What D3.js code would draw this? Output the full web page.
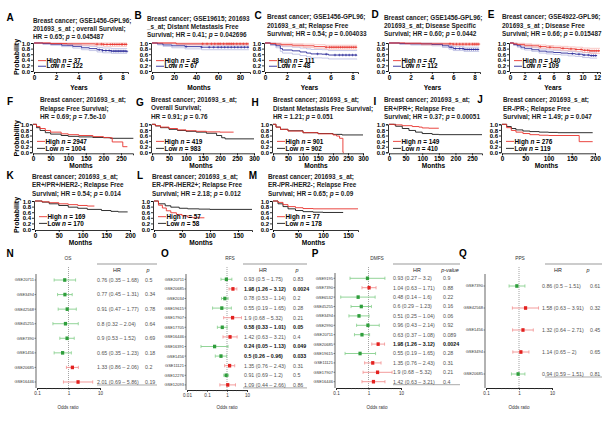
<!DOCTYPE html>
<html><head><meta charset="utf-8">
<script src="https://cdn.jsdelivr.net/npm/d3@7"></script>
<style>body{margin:0;background:#fff}svg{display:block}text{font-family:"Liberation Sans",Arial,sans-serif}</style>
</head><body><svg id="c" width="605" height="421"></svg>
<script>
// ---------------- DATA ----------------
const PROB_TICKS = [0, 0.2, 0.4, 0.6, 0.8, 1.0];
const YEAR_TICKS_8 = [0, 2, 4, 6, 8];
const YEAR_TICKS_12 = [0, 2, 4, 6, 8, 10, 12];
const MONTH_TICKS_B = [0, 20, 40, 60, 80];
const MONTH_TICKS_250 = [0, 50, 100, 150, 200, 250];
const MONTH_TICKS_300 = [0, 50, 100, 150, 200, 250, 300];
const MONTH_TICKS_200 = [0, 50, 100, 150, 200];
const MONTH_TICKS_150 = [0, 50, 100, 150];

// KM curves: [time, survival]
const A_high = [[0,1],[1.5,0.98],[3,0.97],[5.5,0.96],[6.3,0.95],[8.4,0.95]];
const A_low = [[0,1],[0.8,0.98],[1.5,0.96],[2.5,0.92],[3.5,0.88],[4.3,0.83],[5,0.8],[5.7,0.76],[6.2,0.73],[7,0.71],[8.4,0.7]];
const A_high_ci = [[0,1,1],[1.5,0.95,1],[3,0.92,1],[5.5,0.9,1],[6.3,0.88,1],[8.4,0.88,1]];
const A_low_ci = [[0,1,1],[0.8,0.95,1],[1.5,0.92,0.99],[2.5,0.87,0.97],[3.5,0.82,0.94],[4.3,0.76,0.9],[5,0.73,0.88],[5.7,0.68,0.84],[6.2,0.65,0.82],[7,0.63,0.8],[8.4,0.62,0.79]];
const A_high_cens = [5.7,6.1,6.3,6.6,6.9,7.1,7.3,7.5,7.7,7.9,8.0,8.2,8.35];
const A_low_cens = [5.9,6.2,6.5,6.8,7.0,7.2,7.35,7.5,7.65,7.8,7.95,8.1,8.25,8.4];

const B_high = [[0,1],[22,0.97],[88,0.97]];
const B_low = [[0,1],[5,0.97],[10,0.93],[18,0.9],[30,0.87],[45,0.85],[88,0.85]];
const B_high_ci = [[0,1,1],[22,0.93,1],[88,0.92,1]];
const B_low_ci = [[0,1,1],[5,0.93,1],[10,0.88,0.98],[18,0.83,0.96],[30,0.79,0.94],[45,0.76,0.93],[88,0.76,0.93]];
const B_high_cens = [46,50,54,57,60,62,65,68,70,72,74,77,80,83,86];
const B_low_cens = [31,45,52,56,60,63,66,69,72,75,78,81,84,87];

const C_high = [[0,1],[0.5,0.98],[1,0.96],[1.5,0.94],[2.5,0.92],[3.5,0.9],[4.5,0.87],[5.5,0.85],[8.4,0.84]];
const C_low = [[0,1],[0.5,0.96],[1,0.9],[1.4,0.8],[1.6,0.75],[2.5,0.72],[3.2,0.68],[3.8,0.64],[4.2,0.61],[5.2,0.6],[5.8,0.57],[8.4,0.56]];
const C_high_ci = [[0,1,1],[0.5,0.95,1],[1,0.92,1],[1.5,0.9,0.99],[2.5,0.87,0.97],[3.5,0.84,0.96],[4.5,0.81,0.94],[5.5,0.78,0.92],[8.4,0.77,0.91]];
const C_low_ci = [[0,1,1],[0.5,0.91,1],[1,0.83,0.98],[1.4,0.7,0.9],[1.6,0.64,0.87],[2.5,0.6,0.85],[3.2,0.55,0.82],[3.8,0.51,0.79],[4.2,0.47,0.77],[5.2,0.46,0.76],[5.8,0.43,0.73],[8.4,0.42,0.72]];
const C_high_cens = [5.6,5.9,6.1,6.3,6.5,6.7,6.9,7.1,7.3,7.5,7.7,7.9,8.1,8.3];
const C_low_cens = [4.8,5.6,6.4,6.8,7.1,7.4,7.7,8.0,8.3];

const D_high = [[0,1],[1.5,0.99],[3,0.97],[6,0.96],[8.4,0.96]];
const D_low = [[0,1],[1,0.98],[2,0.97],[4,0.95],[5,0.9],[5.6,0.85],[6,0.8],[7,0.77],[8.4,0.76]];
const D_high_ci = [[0,1,1],[1.5,0.96,1],[3,0.93,1],[6,0.91,1],[8.4,0.91,1]];
const D_low_ci = [[0,1,1],[1,0.95,1],[2,0.93,1],[4,0.9,0.99],[5,0.84,0.95],[5.6,0.78,0.91],[6,0.73,0.87],[7,0.7,0.85],[8.4,0.69,0.84]];
const D_high_cens = [5.7,6.0,6.3,6.6,6.9,7.2,7.5,7.8,8.0,8.2,8.4];
const D_low_cens = [5.8,6.2,6.6,6.9,7.1,7.3,7.5,7.7,7.9,8.1,8.3];

const E_high = [[0,1],[0.5,0.97],[1,0.95],[2,0.92],[3,0.9],[4,0.87],[5,0.85],[6,0.83],[7,0.81],[8,0.79],[9,0.77],[10,0.74],[11,0.72],[12.4,0.72]];
const E_low = [[0,1],[0.5,0.95],[1,0.9],[1.5,0.85],[2,0.81],[3,0.76],[4,0.71],[5,0.68],[6,0.66],[7,0.64],[8,0.62],[9,0.6],[10,0.57],[11,0.55],[12,0.55]];
const E_high_ci = [[0,1,1],[0.5,0.94,1],[1,0.91,0.99],[2,0.87,0.97],[3,0.85,0.95],[4,0.81,0.93],[5,0.79,0.91],[6,0.76,0.89],[7,0.74,0.88],[8,0.72,0.86],[9,0.7,0.85],[10,0.66,0.82],[11,0.63,0.81],[12.4,0.63,0.81]];
const E_low_ci = [[0,1,1],[0.5,0.91,0.99],[1,0.85,0.95],[1.5,0.79,0.91],[2,0.75,0.88],[3,0.7,0.83],[4,0.64,0.78],[5,0.61,0.75],[6,0.59,0.74],[7,0.57,0.72],[8,0.54,0.7],[9,0.52,0.68],[10,0.48,0.66],[11,0.46,0.64],[12,0.46,0.64]];
const E_high_cens = [4.2,5.5,7.3,8.4,9.1,9.8,10.3,10.7,11.0,11.3,11.6,11.9,12.2];
const E_low_cens = [8.6,9.5,10.2,10.8,11.2,11.5,11.8];

const F_high = [[0,1],[10,0.92],[20,0.85],[35,0.78],[50,0.72],[80,0.66],[100,0.63],[130,0.6],[170,0.56],[200,0.53],[215,0.52],[225,0.37],[255,0.2],[268,0.2]];
const F_low = [[0,1],[10,0.88],[20,0.78],[35,0.7],[50,0.65],[80,0.6],[100,0.57],[130,0.55],[170,0.53],[200,0.52],[220,0.5],[285,0.5]];
const G_high = [[0,1],[10,0.95],[25,0.9],[50,0.85],[75,0.8],[100,0.77],[130,0.75],[160,0.73],[200,0.72],[240,0.72]];
const G_low = [[0,1],[10,0.94],[25,0.88],[50,0.82],[75,0.78],[100,0.75],[130,0.72],[160,0.68],[190,0.6],[205,0.52],[215,0.48],[300,0.48]];
const H_high = [[0,1],[10,0.9],[25,0.82],[50,0.76],[100,0.7],[150,0.66],[200,0.62],[212,0.58],[222,0.5],[233,0.0],[236,0.0]];
const H_low = [[0,1],[10,0.9],[25,0.82],[50,0.77],[100,0.7],[150,0.67],[200,0.64],[230,0.62],[300,0.62]];
const I_high = [[0,1],[15,0.98],[40,0.95],[70,0.92],[90,0.9],[100,0.87],[120,0.86],[150,0.86]];
const I_low = [[0,1],[20,0.93],[40,0.85],[60,0.78],[80,0.72],[100,0.67],[130,0.64],[150,0.63],[280,0.63]];
const J_high = [[0,1],[10,0.88],[20,0.78],[30,0.72],[45,0.67],[60,0.63],[80,0.61],[100,0.6],[166,0.38],[195,0.38]];
const J_low = [[0,1],[10,0.92],[20,0.85],[30,0.8],[45,0.76],[60,0.74],[80,0.72],[100,0.71],[120,0.7],[195,0.7]];
const K_high = [[0,1],[15,0.97],[30,0.94],[50,0.9],[70,0.87],[90,0.84],[110,0.82],[125,0.82]];
const K_low = [[0,1],[15,0.96],[30,0.9],[50,0.84],[70,0.78],[90,0.74],[110,0.7],[140,0.66],[160,0.63],[175,0.61],[195,0.61]];
const L_high = [[0,1],[8,0.85],[15,0.75],[22,0.65],[30,0.58],[40,0.52],[50,0.47],[60,0.42],[70,0.4],[90,0.4]];
const L_low = [[0,1],[8,0.9],[20,0.83],[30,0.78],[45,0.74],[60,0.72],[80,0.71],[100,0.7],[175,0.7]];
const M_high = [[0,1],[10,0.95],[20,0.87],[30,0.8],[45,0.76],[60,0.73],[80,0.72],[170,0.72]];
const M_low = [[0,1],[10,0.9],[20,0.8],[30,0.72],[45,0.66],[60,0.62],[80,0.6],[100,0.59],[140,0.58]];

// Forest plot data
const N_labels = ["GSE20711","GSE3494","GSE42568","GSE45255","GSE7390","GSE1456","GSE20685","GSE16446"];
const N_hr = [0.76,0.77,0.91,0.8,0.9,0.65,1.33,2.01];
const N_lo = [0.35,0.45,0.47,0.32,0.53,0.35,0.86,0.69];
const N_hi = [1.68,1.31,1.77,2.04,1.52,1.23,2.06,5.86];
const N_p = ["0.5","0.34","0.78","0.64","0.69","0.18","0.2","0.19"];

const O_labels = ["GSE20711","GSE20685","GSE2034","GSE19615","GSE17907","GSE17705","GSE16446","GSE16391","GSE1456","GSE11121","GSE12276","GSE12093"];
const O_hr = [0.93,1.98,0.78,0.55,1.9,0.58,1.42,0.24,0.5,1.35,0.91,1.09];
const O_lo = [0.5,1.26,0.53,0.19,0.68,0.33,0.63,0.05,0.26,0.76,0.69,0.44];
const O_hi = [1.75,3.12,1.14,1.65,5.32,1.01,3.21,1.13,0.96,2.43,1.2,2.66];
const O_p = ["0.83","0.0024","0.2","0.28","0.21","0.05","0.4","0.049","0.033","0.31","0.5","0.86"];

const P_labels = ["GSE9195","GSE7390","GSE6532","GSE45255","GSE3494","GSE2990","GSE20711","GSE20685","GSE19615","GSE11121","GSE17907","GSE16446"];
const P_hr = [0.93,1.04,0.48,0.6,0.51,0.96,0.63,1.98,0.55,1.35,1.9,1.42];
const P_lo = [0.27,0.63,0.14,0.29,0.25,0.43,0.37,1.26,0.19,0.76,0.68,0.63];
const P_hi = [3.2,1.71,1.6,1.23,1.04,2.14,1.08,3.12,1.65,2.43,5.32,3.21];
const P_p = ["0.9","0.88","0.22","0.16","0.06","0.92","0.089","0.0024","0.28","0.31","0.21","0.4"];

const Q_labels = ["GSE7390","GSE42568","GSE1456","GSE3494","GSE20685"];
const Q_hr = [0.86,1.58,1.32,1.14,0.94];
const Q_lo = [0.5,0.63,0.64,0.65,0.59];
const Q_hi = [1.51,3.91,2.71,2,1.51];
const Q_p = ["0.61","0.32","0.45","0.65","0.81"];

// ---------------- DRAWING ----------------
const svg = d3.select("#c");
const RED = "#e8322c", BLUE = "#2b2b9a", RED_CI = "#f6b0ad", BLUE_CI = "#aeb0de", BLACK = "#1a1a1a";

function survAt(curve, t) {
  let v = curve[0][1];
  for (const [tt, s] of curve) { if (tt <= t) v = s; else break; }
  return v;
}

function styleAxis(a, fs) {
  a.attr("font-size", null).attr("font-family", null);
  a.selectAll("text").attr("font-size", fs).attr("font-weight", "bold").attr("fill", "#000");
  a.selectAll("path,line").attr("stroke", "#000").attr("stroke-width", 0.8);
}

function km(p) {
  const g = svg.append("g");
  const x = d3.scaleLinear().domain([0, p.xmax]).range([p.left, p.right]);
  const y = d3.scaleLinear().domain([0, 1]).range([p.bottom, p.top]);
  g.append("text").attr("x", p.lx).attr("y", p.ly).attr("font-size", 10).attr("font-weight", "bold")
    .attr("text-anchor", "middle").text(p.letter);
  p.title.forEach((t, i) => {
    const tx = g.append("text").attr("x", p.tx).attr("y", p.ty + i * 8.3).attr("font-size", 6.4).attr("font-weight", "bold").attr("fill", "#222");
    const parts = t.split(" p = ");
    if (parts.length > 1) {
      tx.append("tspan").text(parts[0] + " ");
      tx.append("tspan").attr("font-style", "italic").text("p");
      tx.append("tspan").text(" = " + parts[1]);
    } else tx.text(t);
  });
  const ya = g.append("g").attr("transform", `translate(${p.left - 1},0)`)
    .call(d3.axisLeft(y).tickValues(PROB_TICKS).tickFormat(d3.format(".1f")).tickSize(2).tickPadding(1));
  styleAxis(ya, 6.0);
  ya.selectAll("text").attr("dy", "0.36em");
  const xa = g.append("g").attr("transform", `translate(0,${p.bottom + 1})`)
    .call(d3.axisBottom(x).tickValues(p.ticks).tickSize(2).tickPadding(1.5));
  styleAxis(xa, 6.4);
  g.append("text").attr("x", (p.left + p.right) / 2 - 2).attr("y", p.xly).attr("text-anchor", "middle")
    .attr("font-size", 6.6).attr("font-weight", "bold").text(p.xlabel);
  if (p.ylab) {
    g.append("text").attr("transform", `translate(19,${(p.top + p.bottom) / 2}) rotate(-90)`)
      .attr("text-anchor", "middle").attr("font-size", 7).attr("font-weight", "bold").text("Probability");
  }
  const line = d3.line().x(d => x(d[0])).y(d => y(d[1])).curve(d3.curveStepAfter);
  const series = [
    { c: p.low, ci: p.lowCi, cens: p.lowCens, col: p.lowCol, ciCol: p.lowCiCol },
    { c: p.high, ci: p.highCi, cens: p.highCens, col: p.highCol, ciCol: p.highCiCol }
  ];
  series.forEach(s => {
    if (s.ci) {
      g.append("path").attr("d", line(s.ci.map(d => [d[0], d[1]]))).attr("fill", "none").attr("stroke", s.ciCol).attr("stroke-width", 0.7);
      g.append("path").attr("d", line(s.ci.map(d => [d[0], d[2]]))).attr("fill", "none").attr("stroke", s.ciCol).attr("stroke-width", 0.7);
    }
  });
  series.forEach(s => {
    g.append("path").attr("d", line(s.c)).attr("fill", "none").attr("stroke", s.col).attr("stroke-width", 0.9);
    if (s.cens) {
      g.append("path").attr("d", s.cens.map(t => {
        const cx = x(t), cy = y(survAt(s.c, t));
        return `M${cx - 1.3},${cy}h2.6M${cx},${cy - 1.3}v2.6`;
      }).join("")).attr("stroke", s.col).attr("stroke-width", 0.6).attr("fill", "none");
    }
  });
  const leg = [
    { lab: "High", n: p.nHigh, col: p.highCol, f: p.legF[0] },
    { lab: "Low", n: p.nLow, col: p.lowCol, f: p.legF[1] }
  ];
  leg.forEach(l => {
    const ly = y(l.f);
    g.append("line").attr("x1", p.left + 4).attr("x2", p.left + 12).attr("y1", ly).attr("y2", ly)
      .attr("stroke", l.col).attr("stroke-width", 0.9);
    const t = g.append("text").attr("x", p.left + 12.5).attr("y", ly + 2.2).attr("font-size", 6.4).attr("font-weight", "bold");
    t.append("tspan").text(l.lab + " ");
    t.append("tspan").attr("font-style", "italic").text("n");
    t.append("tspan").text(" = " + l.n);
  });
}

const ROW1 = { top: 43, bottom: 71, xly: 89.5, legF: [0.37, 0.17] };
const ROW2 = { top: 124.3, bottom: 152.3, xly: 168, legF: [0.39, 0.14] };
const ROW3 = { top: 201, bottom: 229, xly: 245, legF: [0.44, 0.2] };
const blueSet = { highCol: RED, lowCol: BLUE, highCiCol: RED_CI, lowCiCol: BLUE_CI };
const blackSet = { highCol: RED, lowCol: BLACK };

const panels = [
  Object.assign({ letter: "A", lx: 10, ly: 21, tx: 33, ty: 22.5, left: 34, right: 128, xmax: 8.5, ticks: YEAR_TICKS_8, xlabel: "Years", ylab: true,
    title: ["Breast cancer; GSE1456-GPL96;", "201693_s_at ; overall Survival;", "HR = 0.65; p = 0.045487"],
    high: A_high, low: A_low, highCi: A_high_ci, lowCi: A_low_ci, highCens: A_high_cens, lowCens: A_low_cens, nHigh: 37, nLow: 122 }, ROW1, blueSet),
  Object.assign({ letter: "B", lx: 138, ly: 19, tx: 147, ty: 20.5, left: 152, right: 250, xmax: 89, ticks: MONTH_TICKS_B, xlabel: "Months",
    title: ["Breast cancer; GSE19615; 201693", "_s_at; Distant Metastasis Free", "Survival; HR = 0.41; p = 0.042696"],
    high: B_high, low: B_low, highCi: B_high_ci, lowCi: B_low_ci, highCens: B_high_cens, lowCens: B_low_cens, nHigh: 48, nLow: 67 }, ROW1, blueSet),
  Object.assign({ letter: "C", lx: 258, ly: 18.5, tx: 267, ty: 19.2, left: 265, right: 358, xmax: 8.5, ticks: YEAR_TICKS_8, xlabel: "Years",
    title: ["Breast cancer; GSE1456-GPL96;", "201693_s_at; Relapse Free", "Survival; HR = 0.54; p = 0.004033"],
    high: C_high, low: C_low, highCi: C_high_ci, lowCi: C_low_ci, highCens: C_high_cens, lowCens: C_low_cens, nHigh: 111, nLow: 48 }, ROW1, blueSet),
  Object.assign({ letter: "D", lx: 375, ly: 18, tx: 384, ty: 19.8, left: 389, right: 480, xmax: 8.5, ticks: YEAR_TICKS_8, xlabel: "Years",
    title: ["Breast cancer; GSE1456-GPL96;", "201693_s_at; Disease Specific", "Survival; HR = 0.60; p = 0.0442"],
    high: D_high, low: D_low, highCi: D_high_ci, lowCi: D_low_ci, highCens: D_high_cens, lowCens: D_low_cens, nHigh: 47, nLow: 112 }, ROW1, blueSet),
  Object.assign({ letter: "E", lx: 491, ly: 18, tx: 502, ty: 19.2, left: 510, right: 600, xmax: 12.4, ticks: YEAR_TICKS_12, xlabel: "Years",
    title: ["Breast cancer; GSE4922-GPL96;", "201693_s_at ; Disease Free", "Survival; HR = 0.66; p = 0.015487"],
    high: E_high, low: E_low, highCi: E_high_ci, lowCi: E_low_ci, highCens: E_high_cens, lowCens: E_low_cens, nHigh: 140, nLow: 109 }, ROW1, blueSet),

  Object.assign({ letter: "F", lx: 10, ly: 105, tx: 40, ty: 102.3, left: 33, right: 133, xmax: 284, ticks: MONTH_TICKS_250, xlabel: "Months", ylab: true,
    title: ["Breast cancer; 201693_s_at;", "Relapse Free Survival;", "HR = 0.69; p = 7.5e-10"],
    high: F_high, low: F_low, nHigh: 2947, nLow: 1004 }, ROW2, blackSet),
  Object.assign({ letter: "G", lx: 140, ly: 106, tx: 151, ty: 102, left: 152, right: 254, xmax: 300, ticks: MONTH_TICKS_300, xlabel: "Months",
    title: ["Breast cancer; 201693_s_at;", "Overall Survival;", "HR = 0.91; p = 0.76"],
    high: G_high, low: G_low, nHigh: 419, nLow: 983 }, ROW2, blackSet),
  Object.assign({ letter: "H", lx: 255, ly: 106, tx: 273, ty: 102.3, left: 273, right: 363, xmax: 300, ticks: MONTH_TICKS_300, xlabel: "Months",
    title: ["Breast cancer; 201693_s_at;", "Distant Metastasis Free Survival;", "HR = 1.21; p = 0.051"],
    high: H_high, low: H_low, nHigh: 901, nLow: 902 }, ROW2, blackSet),
  Object.assign({ letter: "I", lx: 375, ly: 105, tx: 384, ty: 102.3, left: 389, right: 482, xmax: 280, ticks: MONTH_TICKS_250, xlabel: "Months",
    title: ["Breast cancer; 201693_s_at;", "ER+/PR+; Relapse Free", "Survival; HR = 0.37; p = 0.00051"],
    high: I_high, low: I_low, nHigh: 149, nLow: 410 }, ROW2, blackSet),
  Object.assign({ letter: "J", lx: 480, ly: 103, tx: 503, ty: 102.3, left: 502, right: 595, xmax: 200, ticks: MONTH_TICKS_200, xlabel: "Months",
    title: ["Breast cancer; 201693_s_at;", "ER-/PR-; Relapse Free", "Survival; HR = 1.49; p = 0.047"],
    high: J_high, low: J_low, nHigh: 276, nLow: 119 }, ROW2, blackSet),

  Object.assign({ letter: "K", lx: 10, ly: 179, tx: 32, ty: 179, left: 35, right: 130, xmax: 200, ticks: MONTH_TICKS_200, xlabel: "Months", ylab: true,
    title: ["Breast cancer; 201693_s_at;", "ER+/PR+/HER2-; Relapse Free", "Survival; HR = 0.54; p = 0.014"],
    high: K_high, low: K_low, nHigh: 169, nLow: 170 }, ROW3, blackSet),
  Object.assign({ letter: "L", lx: 140, ly: 179, tx: 152, ty: 179, left: 154, right: 252, xmax: 175, ticks: MONTH_TICKS_150, xlabel: "Months",
    title: ["Breast cancer; 201693_s_at;", "ER-/PR-/HER2+; Relapse Free", "Survival; HR = 2.18; p = 0.012"],
    high: L_high, low: L_low, nHigh: 57, nLow: 58 }, ROW3, blackSet),
  Object.assign({ letter: "M", lx: 253, ly: 179, tx: 268, ty: 179, left: 273, right: 358, xmax: 170, ticks: MONTH_TICKS_150, xlabel: "Months",
    title: ["Breast cancer; 201693_s_at;", "ER-/PR-/HER2-; Relapse Free", "Survival; HR = 0.65; p = 0.09"],
    high: M_high, low: M_low, nHigh: 77, nLow: 178 }, ROW3, blackSet)
];
panels.forEach(km);

// ---------- Forest plots ----------
const G_MARK = "#2f9e3c", G_BAR = "#86cf8c", R_MARK = "#e3211f", R_BAR = "#f29090";
function forest(f) {
  const g = svg.append("g");
  const x = d3.scaleLog().domain(f.domain).range([f.left, f.right]);
  const yRow = i => f.rowTop + i * f.rowStep;
  const n = f.labels.length;
  g.append("text").attr("x", f.lx).attr("y", 257).attr("font-size", 10).attr("font-weight", "bold").attr("text-anchor", "middle").text(f.letter);
  g.append("text").attr("x", f.titleX).attr("y", 260).attr("font-size", 4.8).attr("text-anchor", "middle").attr("fill", "#333").text(f.title);
  g.append("line").attr("x1", x(1)).attr("x2", x(1)).attr("y1", 267).attr("y2", f.axisY)
    .attr("stroke", "#666").attr("stroke-width", 0.6).attr("stroke-dasharray", "1,1");
  g.append("line").attr("x1", f.left - 1).attr("x2", f.left - 1).attr("y1", f.axisTop).attr("y2", f.axisY)
    .attr("stroke", "#222").attr("stroke-width", 0.7);
  f.labels.forEach((lab, i) => {
    g.append("line").attr("x1", f.left - 2.5).attr("x2", f.left - 1).attr("y1", yRow(i)).attr("y2", yRow(i)).attr("stroke", "#222").attr("stroke-width", 0.5);
    g.append("text").attr("x", f.left - 3).attr("y", yRow(i) + 1.4).attr("text-anchor", "end").attr("font-size", 4).attr("fill", "#333").text(lab);
  });
  const xa = g.append("g").attr("transform", `translate(0,${f.axisY})`)
    .call(d3.axisBottom(x).tickValues(f.major).tickFormat(d3.format("~g")).tickSize(2).tickPadding(2));
  xa.attr("font-size", null).attr("font-family", null);
  xa.selectAll("text").attr("font-size", 4.6).attr("fill", "#333");
  xa.selectAll("path,line").attr("stroke", "#222").attr("stroke-width", 0.7);
  xa.select(".domain").attr("stroke-width", 1);
  g.selectAll(".minor").data(x.ticks().filter(t => !f.major.includes(t))).join("line")
    .attr("x1", d => x(d)).attr("x2", d => x(d)).attr("y1", f.axisY).attr("y2", f.axisY + 1.2)
    .attr("stroke", "#444").attr("stroke-width", 0.5);
  g.append("text").attr("x", f.orX).attr("y", 409).attr("text-anchor", "middle").attr("font-size", 4.6).attr("fill", "#333").text("Odds ratio");
  f.hr.forEach((h, i) => {
    const up = h > 1;
    const yy = yRow(i);
    const bc = up ? R_BAR : G_BAR, mc = up ? R_MARK : G_MARK;
    g.append("line").attr("x1", x(f.lo[i])).attr("x2", x(f.hi[i])).attr("y1", yy).attr("y2", yy).attr("stroke", bc).attr("stroke-width", 0.9);
    [f.lo[i], f.hi[i]].forEach(v => g.append("line").attr("x1", x(v)).attr("x2", x(v)).attr("y1", yy - 1.6).attr("y2", yy + 1.6).attr("stroke", bc).attr("stroke-width", 0.8));
    g.append("rect").attr("x", x(h) - 1.6).attr("y", yy - 1.8).attr("width", 3.2).attr("height", 3.6).attr("fill", mc);
  });
  g.append("line").attr("x1", f.tx1).attr("x2", f.tx2).attr("y1", 264).attr("y2", 264).attr("stroke", "#555").attr("stroke-width", 0.6);
  g.append("text").attr("x", f.hrHead).attr("y", 272).attr("text-anchor", "middle").attr("font-size", 5.4).attr("fill", "#222").text("HR");
  g.append("text").attr("x", f.pHead).attr("y", 272).attr("text-anchor", "middle").attr("font-size", 5.4).attr("font-style", "italic").attr("fill", "#222").text(f.pLabel);
  f.hr.forEach((h, i) => {
    const bold = parseFloat(f.p[i]) <= 0.05;
    const col = bold ? "#111" : "#555";
    const yy = yRow(i) + 1.9;
    g.append("text").attr("x", f.hrX).attr("y", yy).attr("font-size", 5.3).attr("fill", col).attr("font-weight", bold ? "bold" : null)
      .text(`${h} (${f.lo[i]} \u2013 ${f.hi[i]})`);
    g.append("text").attr("x", f.pX).attr("y", yy).attr("font-size", 5.3).attr("fill", col).attr("font-weight", bold ? "bold" : null).text(f.p[i]);
  });
  g.append("line").attr("x1", f.tx1).attr("x2", f.tx2).attr("y1", yRow(n - 1) + 3).attr("y2", yRow(n - 1) + 3).attr("stroke", "#555").attr("stroke-width", 0.5);
}

forest({ letter: "N", lx: 10, title: "OS", titleX: 68, labels: N_labels, hr: N_hr, lo: N_lo, hi: N_hi, p: N_p,
  domain: [0.1, 10], major: [0.1, 1, 10], left: 37, right: 100, rowTop: 280, rowStep: 14.57, axisTop: 274, axisY: 388, orX: 68,
  tx1: 97, tx2: 157, hrHead: 117, pHead: 148, pLabel: "p", hrX: 97, pX: 145 });
forest({ letter: "O", lx: 165, title: "RFS", titleX: 230, labels: O_labels, hr: O_hr, lo: O_lo, hi: O_hi, p: O_p,
  domain: [0.01, 10], major: [0.01, 0.1, 1, 10], left: 187, right: 247, rowTop: 279.3, rowStep: 9.6, axisTop: 274, axisY: 390, orX: 227,
  tx1: 243, tx2: 307, hrHead: 263, pHead: 297, pLabel: "p", hrX: 244, pX: 293 });
forest({ letter: "P", lx: 315, title: "DMFS", titleX: 377, labels: P_labels, hr: P_hr, lo: P_lo, hi: P_hi, p: P_p,
  domain: [0.1, 10], major: [0.1, 1, 10], left: 336, right: 401, rowTop: 278.3, rowStep: 9.4, axisTop: 273, axisY: 388, orX: 377,
  tx1: 393, tx2: 460, hrHead: 417, pHead: 450, pLabel: "p-value", hrX: 393, pX: 443 });
forest({ letter: "Q", lx: 463, title: "PPS", titleX: 520, labels: Q_labels, hr: Q_hr, lo: Q_lo, hi: Q_hi, p: Q_p,
  domain: [0.1, 10], major: [0.1, 1, 10], left: 486, right: 552, rowTop: 286, rowStep: 22, axisTop: 274, axisY: 388, orX: 519,
  tx1: 545, tx2: 602, hrHead: 558, pHead: 588, pLabel: "p", hrX: 542, pX: 590 });
</script>
</body></html>
